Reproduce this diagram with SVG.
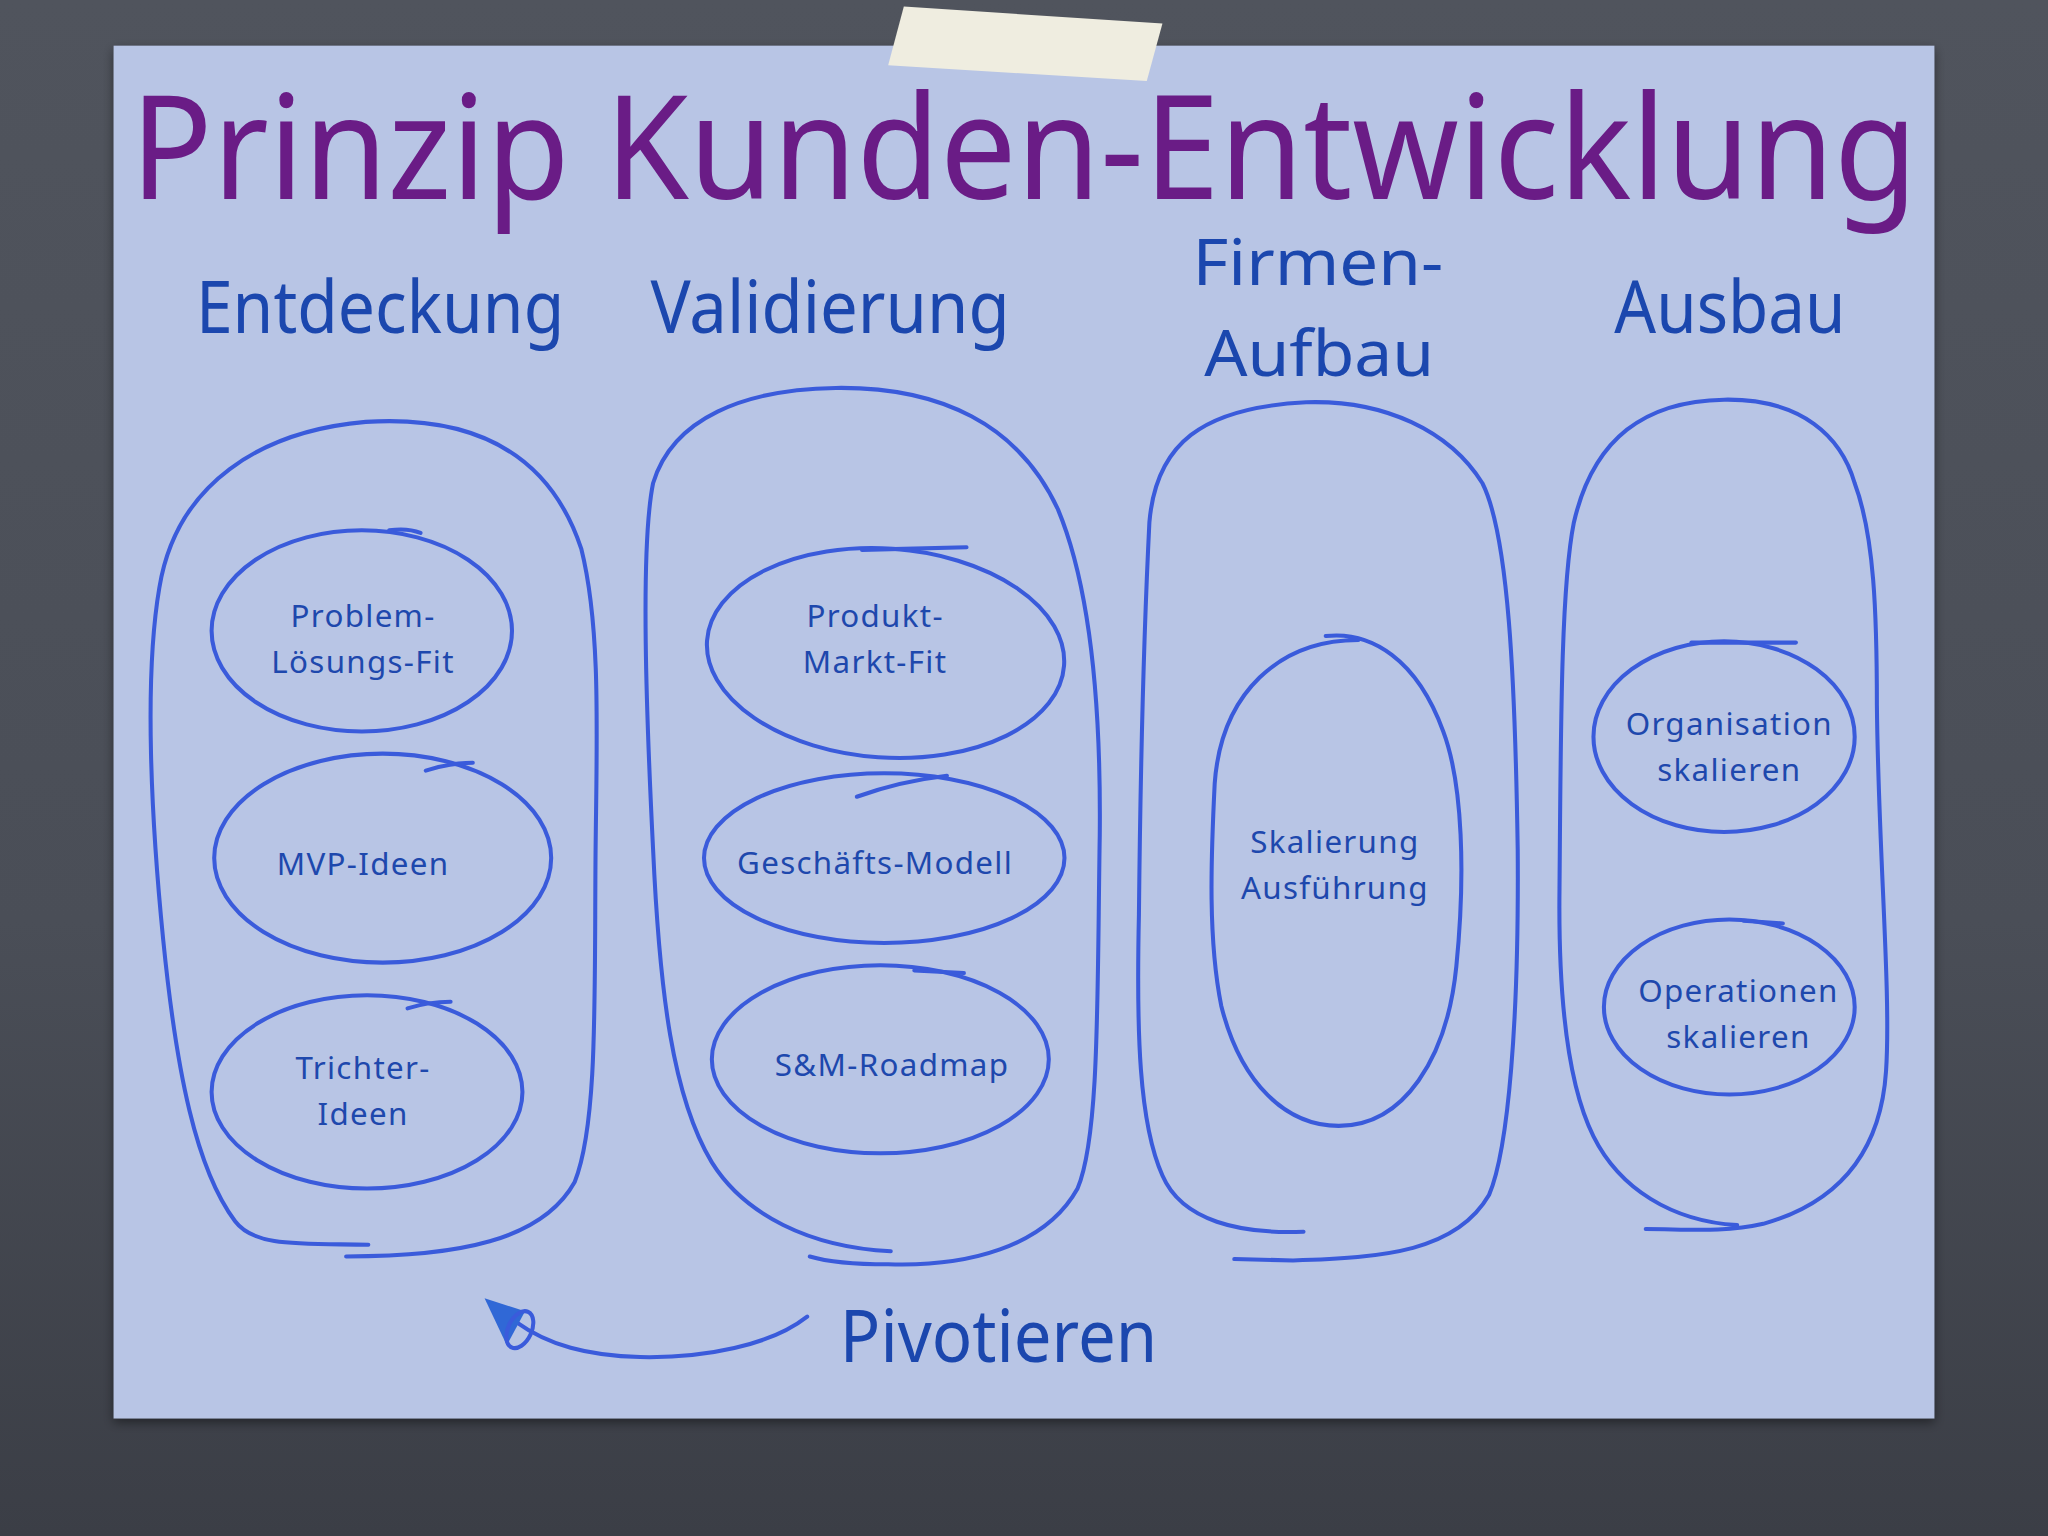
<svg xmlns="http://www.w3.org/2000/svg" width="2048" height="1536" viewBox="0 0 2048 1536">
<defs>
<linearGradient id="bg" x1="0" y1="0" x2="0" y2="1">
<stop offset="0" stop-color="#50545d"/>
<stop offset="0.6" stop-color="#4a4e57"/>
<stop offset="1" stop-color="#3b3e46"/>
</linearGradient>
<filter id="sh" x="-5%" y="-5%" width="110%" height="110%">
<feDropShadow dx="0" dy="3" stdDeviation="4" flood-color="#000" flood-opacity="0.45"/>
</filter>
</defs>
<style>
.blob{fill:none;stroke:#3a5bdb;stroke-width:3.1;stroke-linecap:round;stroke-linejoin:round}
.lbl{font-family:"Noto Sans","DejaVu Sans",sans-serif;font-size:24px;fill:#1e48ad;text-anchor:middle;letter-spacing:1px}
.hd{font-family:"Noto Sans","DejaVu Sans",sans-serif;font-size:56px;fill:#1b47ae}
.hd2{font-family:"Noto Sans","DejaVu Sans",sans-serif;font-size:49px;fill:#1b47ae}
.title{font-family:"Noto Sans","DejaVu Sans",sans-serif;font-size:110px;fill:#6a1c86}
</style>
<rect width="2048" height="1536" fill="url(#bg)"/>
<g transform="scale(1.30612)">
<rect x="87" y="35" width="1394" height="1051" fill="#b8c5e5" filter="url(#sh)"/>
<polygon points="692,5 890,18 878,62 680,50" fill="#efede0"/>
<text class="title" x="100" y="152" textLength="1368" lengthAdjust="spacingAndGlyphs">Prinzip Kunden-Entwicklung</text>
<g id="headings">
<text class="hd" x="150" y="255" textLength="282" lengthAdjust="spacingAndGlyphs">Entdeckung</text>
<text class="hd" x="498" y="255" textLength="275" lengthAdjust="spacingAndGlyphs">Validierung</text>
<text class="hd2" x="913" y="218" textLength="192" lengthAdjust="spacingAndGlyphs">Firmen-</text>
<text class="hd2" x="922" y="288" textLength="176" lengthAdjust="spacingAndGlyphs">Aufbau</text>
<text class="hd" x="1236" y="255" textLength="177" lengthAdjust="spacingAndGlyphs">Ausbau</text>
</g>
<g id="entdeckung">
<path class="blob" d="M 282 953 C 230 952, 195 955, 180 935 C 150 895, 135 820, 125 720 C 116 630, 110 520, 122 450 C 135 370, 200 330, 280 323 C 360 318, 420 345, 445 420 C 460 480, 457 560, 456 650 C 455 760, 458 860, 440 905 C 415 950, 350 962, 265 962"/>
</g>
<g id="problem-loesungs-fit">
<ellipse class="blob" cx="277" cy="483" rx="115" ry="77"/>
<path class="blob" d="M 298 406 Q 312 404 322 408"/>
<text class="lbl" x="278" y="480">Problem-</text>
<text class="lbl" x="278" y="515">Lösungs-Fit</text>
</g>
<g id="mvp-ideen">
<ellipse class="blob" cx="293" cy="657" rx="129" ry="80"/>
<path class="blob" d="M 326 590 Q 345 584 362 584"/>
<text class="lbl" x="278" y="670">MVP-Ideen</text>
</g>
<g id="trichter-ideen">
<ellipse class="blob" cx="281" cy="836" rx="119" ry="74"/>
<path class="blob" d="M 312 772 Q 328 767 345 767"/>
<text class="lbl" x="278" y="826">Trichter-</text>
<text class="lbl" x="278" y="861">Ideen</text>
</g>
<g id="validierung">
<path class="blob" d="M 682 958 C 620 955, 570 930, 545 890 C 515 840, 505 760, 500 650 C 495 550, 490 420, 500 370 C 515 320, 570 298, 640 297 C 720 296, 780 325, 810 390 C 835 450, 843 540, 842 640 C 840 760, 842 870, 825 910 C 800 955, 740 970, 680 968 C 650 968, 630 965, 620 962"/>
</g>
<g id="produkt-markt-fit">
<ellipse class="blob" cx="678" cy="500" rx="137" ry="80" transform="rotate(4 678 500)"/>
<path class="blob" d="M 660 421 L 740 419"/>
<text class="lbl" x="670" y="480">Produkt-</text>
<text class="lbl" x="670" y="515">Markt-Fit</text>
</g>
<g id="geschaefts-modell">
<ellipse class="blob" cx="677" cy="657" rx="138" ry="65"/>
<path class="blob" d="M 656 610 Q 690 598 725 594"/>
<text class="lbl" x="670" y="669">Geschäfts-Modell</text>
</g>
<g id="sm-roadmap">
<ellipse class="blob" cx="674" cy="811" rx="129" ry="72"/>
<path class="blob" d="M 700 743 L 738 745"/>
<text class="lbl" x="683" y="824">S&amp;M-Roadmap</text>
</g>
<g id="firmen-aufbau">
<path class="blob" d="M 998 943 C 950 945, 905 935, 890 900 C 872 860, 870 790, 872 700 C 873 600, 876 480, 880 400 C 885 340, 920 312, 1000 308 C 1060 306, 1110 330, 1135 370 C 1155 410, 1160 520, 1162 650 C 1163 780, 1155 880, 1140 915 C 1115 958, 1060 963, 990 965 L 945 964"/>
</g>
<g id="skalierung-ausfuehrung">
<path class="blob" d="M 1040 490 C 980 490, 935 530, 930 600 C 927 660, 925 720, 935 770 C 950 830, 985 862, 1025 862 C 1075 862, 1108 810, 1115 740 C 1122 670, 1120 600, 1105 560 C 1085 505, 1050 483, 1015 487"/>
<text class="lbl" x="1022" y="653">Skalierung</text>
<text class="lbl" x="1022" y="688">Ausführung</text>
</g>
<g id="ausbau">
<path class="blob" d="M 1330 938 C 1280 935, 1240 910, 1220 870 C 1200 830, 1193 760, 1194 680 C 1195 560, 1195 450, 1205 400 C 1220 335, 1260 307, 1320 306 C 1380 305, 1410 335, 1420 370 C 1435 410, 1437 470, 1437 540 C 1438 650, 1448 760, 1444 820 C 1440 880, 1410 920, 1350 937 C 1320 944, 1290 941, 1260 941"/>
</g>
<g id="organisation-skalieren">
<ellipse class="blob" cx="1320" cy="564" rx="100" ry="73"/>
<path class="blob" d="M 1295 492 L 1375 492"/>
<text class="lbl" x="1324" y="563">Organisation</text>
<text class="lbl" x="1324" y="598">skalieren</text>
</g>
<g id="operationen-skalieren">
<ellipse class="blob" cx="1324" cy="771" rx="96" ry="67"/>
<path class="blob" d="M 1335 705 L 1365 707"/>
<text class="lbl" x="1331" y="767">Operationen</text>
<text class="lbl" x="1331" y="802">skalieren</text>
</g>
<g id="connectors">
<path class="blob" d="M 618 1008 C 590 1030, 540 1040, 490 1039 C 450 1038, 420 1030, 395 1012"/>
<polygon points="371,994 402,1004 388,1030" fill="#3068d6"/>
<ellipse cx="398" cy="1018" rx="9" ry="15" transform="rotate(25 398 1018)" fill="none" stroke="#3a5bdb" stroke-width="3.1"/>
</g>
<text class="hd" x="643" y="1043" textLength="243" lengthAdjust="spacingAndGlyphs">Pivotieren</text>
</g>
</svg>
